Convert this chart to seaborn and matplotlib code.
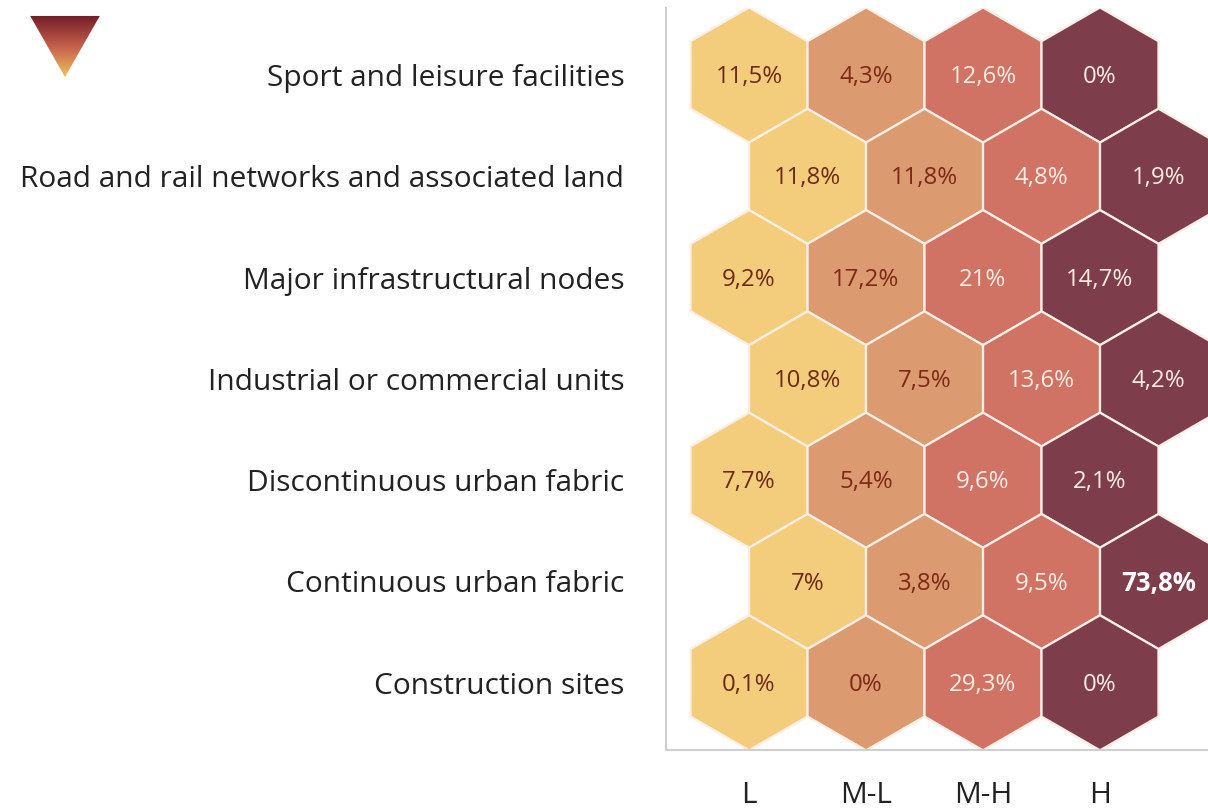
import numpy as np
import pandas as pd
import seaborn as sns
import matplotlib.pyplot as plt
from matplotlib.colors import LinearSegmentedColormap
from matplotlib.patches import Polygon

sns.set_style('white')
plt.rcParams['font.family'] = ['Open Sans', 'DejaVu Sans']

# 数据
categories = ['Sport and leisure facilities',
              'Road and rail networks and associated land',
              'Major infrastructural nodes',
              'Industrial or commercial units',
              'Discontinuous urban fabric',
              'Continuous urban fabric',
              'Construction sites']
levels = ['L', 'M-L', 'M-H', 'H']
val_L = [11.5, 11.8, 9.2, 10.8, 7.7, 7.0, 0.1]
val_ML = [4.3, 11.8, 17.2, 7.5, 5.4, 3.8, 0.0]
val_MH = [12.6, 4.8, 21.0, 13.6, 9.6, 9.5, 29.3]
val_H = [0.0, 1.9, 14.7, 4.2, 2.1, 73.8, 0.0]

colors = {'L': '#F4CD7C', 'M-L': '#DB9A6F', 'M-H': '#D07264', 'H': '#7E3D4A'}
txt_colors = {'L': '#6B2A16', 'M-L': '#7A2A16', 'M-H': '#FBEDE4', 'H': '#FBEDE4'}

rows = []
for r, cat in enumerate(categories):
    for c, (lev, vals) in enumerate(zip(levels, [val_L, val_ML, val_MH, val_H])):
        rows.append({'row': r, 'col': c + 0.5 * (r % 2), 'level': lev,
                     'value': vals[r], 'category': cat})
df = pd.DataFrame(rows)

W, H = 1208, 810
fig = plt.figure(figsize=(W / 100, H / 100), dpi=100)
ax = fig.add_axes([666 / W, (H - 750) / H, 1 - 666 / W, (750 - 8) / H])

# 六边形大小（外接圆半径约67.5像素）
R_px = 67.5
s = (2 * R_px * 0.72) ** 2
sns.scatterplot(data=df, x='col', y='row', hue='level', palette=colors,
                marker='h', s=s, edgecolor='#FBEEE6', linewidth=1.6,
                legend=False, ax=ax)

for _, d in df.iterrows():
    label = f"{d['value']:g}".replace('.', ',') + '%'
    bold = d['value'] > 50
    ax.text(d['col'], d['row'] + 0.02, label, ha='center', va='center',
            fontsize=18.5 if bold else 17.3,
            color='white' if bold else txt_colors[d['level']],
            fontweight='bold' if bold else 'normal')

ax.set_xlim((666 - 749) / 117, (1208 - 749) / 117)
ax.set_ylim((750 - 75) / 101.3, (8 - 75) / 101.3)
ax.set_xticks(range(4))
ax.set_xticklabels(levels, fontsize=21.5, color='#222222')
ax.set_yticks(range(len(categories)))
ax.set_yticklabels(categories, fontsize=21.5, color='#222222')
ax.tick_params(axis='both', length=0)
ax.tick_params(axis='x', pad=22)
ax.tick_params(axis='y', pad=30)
ax.set_xlabel('')
ax.set_ylabel('')
for side in ['top', 'right']:
    ax.spines[side].set_visible(False)
for side in ['left', 'bottom']:
    ax.spines[side].set_color('#CFCFCF')
    ax.spines[side].set_linewidth(1.5)

# 左上角渐变三角形
tax = fig.add_axes([28 / W, (H - 79) / H, 74 / W, 65 / H])
tax.set_xlim(0, 1)
tax.set_ylim(0, 1)
cmap = LinearSegmentedColormap.from_list('tri', ['#F3C65C', '#C5604C', '#6E1A28'])
grad = np.linspace(0, 1, 256).reshape(-1, 1)
im = tax.imshow(grad, cmap=cmap, extent=[0, 1, 0, 1], origin='lower', aspect='auto')
tri = Polygon([[0.03, 0.97], [0.97, 0.97], [0.5, 0.03]], transform=tax.transData,
              facecolor='none', edgecolor='none')
tax.add_patch(tri)
im.set_clip_path(tri)
tax.axis('off')

plt.savefig('out.png', dpi=100)
